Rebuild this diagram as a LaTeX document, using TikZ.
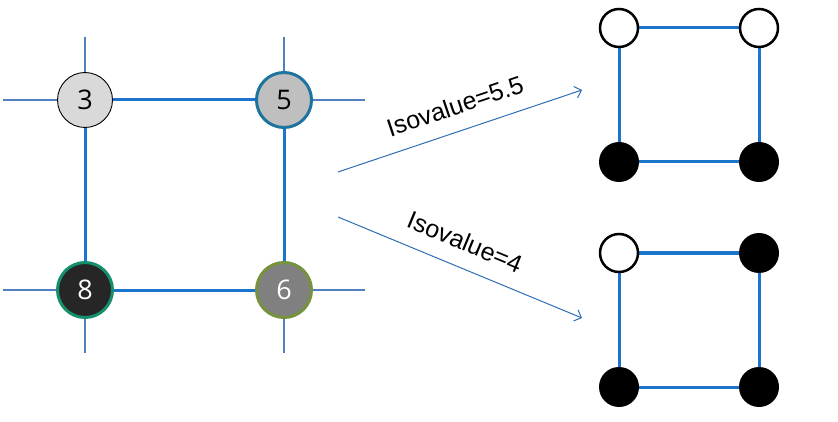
\documentclass[tikz,border=0pt]{standalone}
\usepackage{fontspec}
\setmainfont{Open Sans}
\newfontfamily\arialf{Liberation Sans}
\usetikzlibrary{arrows.meta}
\definecolor{gridc}{HTML}{4F81BD}
\definecolor{edgec}{HTML}{1C75CC}
\definecolor{bfive}{HTML}{1F739F}
\definecolor{beight}{HTML}{15906E}
\definecolor{bsix}{HTML}{76923C}
\definecolor{arrc}{HTML}{2F6DB5}
\tikzset{
  x=1pt,y=-1pt,
  gridline/.style={draw=gridc,line width=1.2pt},
  edgeline/.style={draw=edgec,line width=3pt},
  vnode/.style={circle,minimum size=55pt,inner sep=0pt,font=\fontsize{27}{27}\selectfont},
  onode/.style={circle,minimum size=38pt,inner sep=0pt,draw=black,line width=2.5pt,fill=white},
  fnode/.style={circle,minimum size=40pt,inner sep=0pt,fill=black},
  arr/.style={draw=arrc,line width=1pt,-{Straight Barb[length=6pt,width=12pt]}},
  lab/.style={font=\arialf\fontsize{25}{25}\selectfont,inner sep=0pt}
}
\begin{document}
\begin{tikzpicture}
\useasboundingbox (0,0) rectangle (838,422);
% grid lines
\coordinate (h1a) at (3,100); \coordinate (h1b) at (365,100);
\coordinate (h2a) at (3,290); \coordinate (h2b) at (365,290);
\coordinate (v1a) at (85,37); \coordinate (v1b) at (85,353);
\coordinate (v2a) at (284,37); \coordinate (v2b) at (284,353);
\draw[gridline] (h1a) -- (h1b);
\draw[gridline] (h2a) -- (h2b);
\draw[gridline] (v1a) -- (v1b);
\draw[gridline] (v2a) -- (v2b);
% left square
\coordinate (c3) at (85,100); \coordinate (c5) at (284,100);
\coordinate (c8) at (85,290); \coordinate (c6) at (284,290);
\fill[white] (c3) rectangle (c6);
\draw[edgeline] (c3) -- (c5) -- (c6) -- (c8) -- cycle;
\node[vnode,fill=black!15,draw=black,line width=0.9pt] (n3) at (c3) {3};
\node[vnode,fill=black!25,draw=bfive,line width=3pt] (n5) at (c5) {5};
\node[vnode,fill=black!85,draw=beight,line width=3pt,text=white] (n8) at (c8) {8};
\node[vnode,fill=black!50,draw=bsix,line width=3pt,text=white] (n6) at (c6) {6};
% arrows
\coordinate (a1s) at (338,172); \coordinate (a1e) at (582,90);
\coordinate (a2s) at (338,217); \coordinate (a2e) at (582,318);
\draw[arr] (a1s) -- (a1e);
\draw[arr] (a2s) -- (a2e);
\node[lab,rotate=18.6] (l1) at (455,106) {Isovalue=5.5};
\node[lab,rotate=-22.5] (l2) at (465,242) {Isovalue=4};
% right top square
\coordinate (t1) at (619,28); \coordinate (t2) at (759,28);
\coordinate (t3) at (619,162); \coordinate (t4) at (759,162);
\fill[white] (t1) rectangle (t4);
\draw[edgeline] (t1) -- (t2) -- (t4) -- (t3) -- cycle;
\node[onode] (r1) at (t1) {};
\node[onode] (r2) at (t2) {};
\node[fnode] (r3) at (t3) {};
\node[fnode] (r4) at (t4) {};
% right bottom square
\coordinate (b1) at (619,253); \coordinate (b2) at (759,253);
\coordinate (b3) at (619,387); \coordinate (b4) at (759,387);
\fill[white] (b1) rectangle (b4);
\draw[edgeline] (b1) -- (b2) -- (b4) -- (b3) -- cycle;
\node[onode] (s1) at (b1) {};
\node[fnode] (s2) at (b2) {};
\node[fnode] (s3) at (b3) {};
\node[fnode] (s4) at (b4) {};
\end{tikzpicture}
\end{document}
